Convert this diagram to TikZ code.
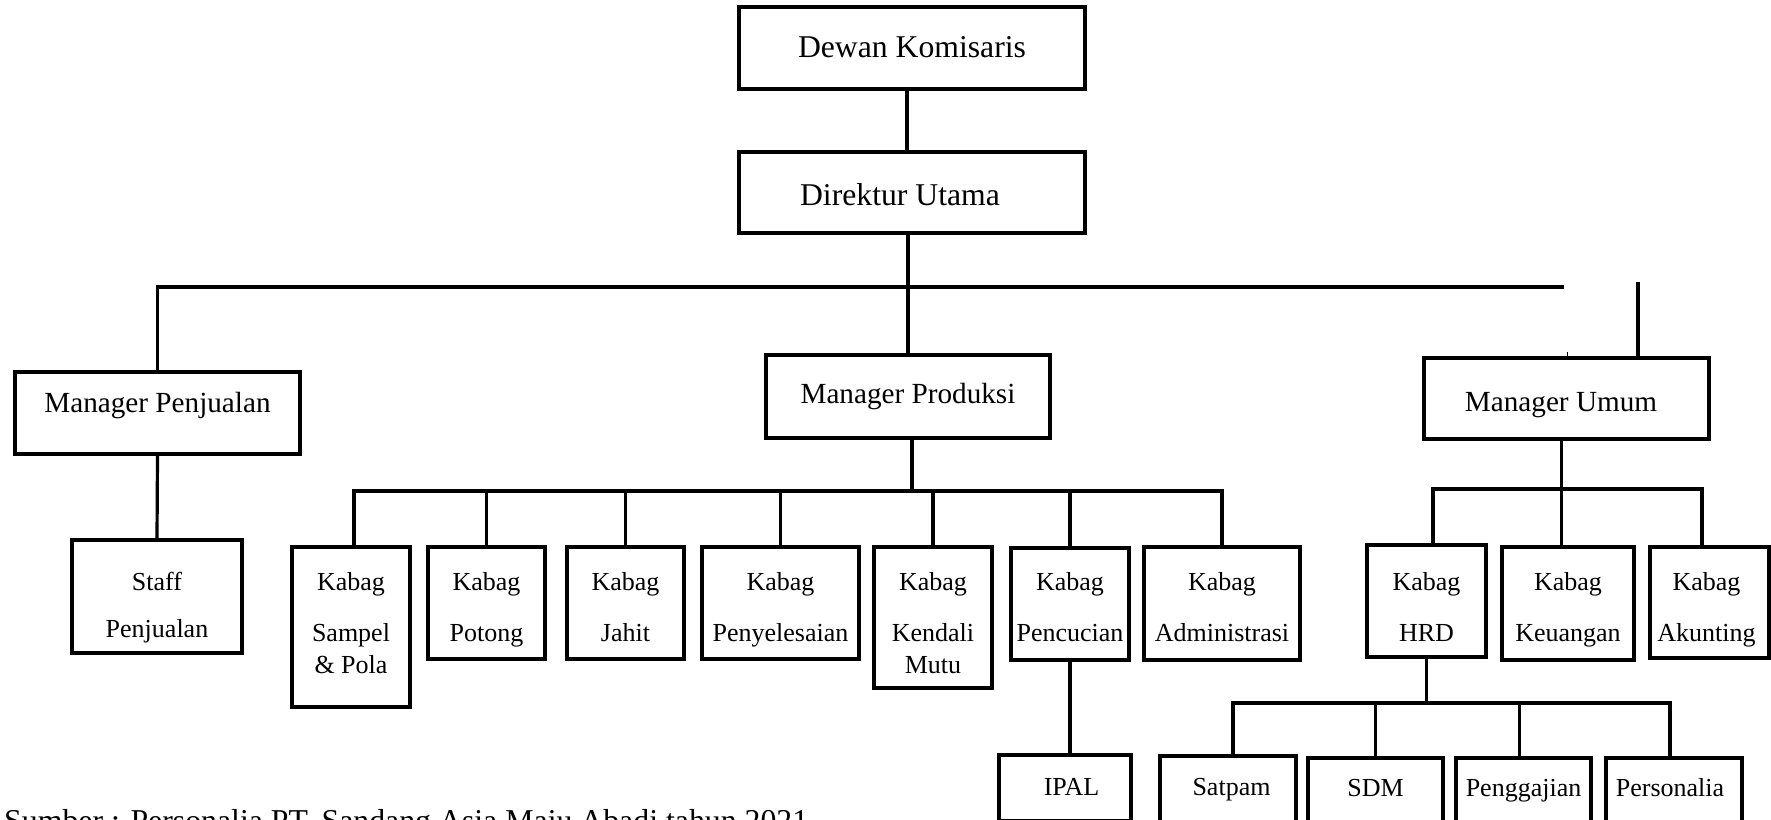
\documentclass[tikz,border=0pt]{standalone}
\usepackage{fontspec}
\setmainfont{Liberation Serif}
\begin{document}
\begin{tikzpicture}[x=1pt,y=-1pt,
  box/.style={draw, line width=3.6pt, inner sep=0pt, font=\fontsize{26}{32}\selectfont},
  lbl/.style={inner sep=0pt, align=center, anchor=north, font=\fontsize{26}{32}\selectfont},
  big/.style={font=\fontsize{31.7}{38}\selectfont},
  mgr/.style={font=\fontsize{29.2}{35}\selectfont},
  conn/.style={line width=3.2pt}]
\useasboundingbox (0,0) rectangle (1771,819);
\clip (0,0) rectangle (1771,819);

% top level
\node[box, big, minimum width=346pt, minimum height=82pt, text height=18pt, text depth=0pt] (dewan) at (912,48) {Dewan Komisaris};
\node[box, big, minimum width=346pt, minimum height=81pt, text height=25pt, text depth=0pt] (direktur) at (912,192.5) {Direktur Utama\hspace*{24pt}};

% managers
\node[box, mgr, minimum width=285pt, minimum height=82pt, text height=10pt, text depth=12pt] (mpenj) at (157.5,413) {Manager Penjualan};
\node[box, mgr, minimum width=284pt, minimum height=83pt, text height=14pt, text depth=0pt] (mprod) at (908,396.5) {Manager Produksi};
\node[box, mgr, minimum width=285pt, minimum height=81pt, text height=25pt, text depth=0pt] (mumum) at (1566.5,398.5) {Manager Umum\hspace*{11pt}};

% second level boxes
\node[box, minimum width=170pt, minimum height=113pt] (staff) at (157,596.5) {};
\node[box, minimum width=118pt, minimum height=160pt] (sampel) at (351,627) {};
\node[box, minimum width=117pt, minimum height=112pt] (potong) at (486.5,603) {};
\node[box, minimum width=117pt, minimum height=112pt] (jahit) at (625.5,603) {};
\node[box, minimum width=157pt, minimum height=112pt] (penyel) at (780.5,603) {};
\node[box, minimum width=118pt, minimum height=141pt] (kendali) at (933,617.5) {};
\node[box, minimum width=118pt, minimum height=112pt] (pencucian) at (1070,604) {};
\node[box, minimum width=156pt, minimum height=113pt] (admin) at (1222,603.5) {};
\node[box, minimum width=119pt, minimum height=112pt] (hrd) at (1426.5,601) {};
\node[box, minimum width=132pt, minimum height=113pt] (keuangan) at (1568,603.5) {};
\node[box, minimum width=119pt, minimum height=111pt] (akunting) at (1709.5,602.5) {};

% second level texts (top of first line at y = 572)
\coordinate (line1) at (0,572.2);
\node[lbl] (staffT) at (staff.north |- line1) {Staff\\[15pt]Penjualan};
\node[lbl] (sampelT) at (sampel.north |- line1) {Kabag\\[19pt]Sampel\\\& Pola};
\node[lbl] (potongT) at (potong.north |- line1) {Kabag\\[19pt]Potong};
\node[lbl] (jahitT) at (jahit.north |- line1) {Kabag\\[19pt]Jahit};
\node[lbl] (penyelT) at (penyel.north |- line1) {Kabag\\[19pt]Penyelesaian};
\node[lbl] (kendaliT) at (kendali.north |- line1) {Kabag\\[19pt]Kendali\\Mutu};
\node[lbl] (pencucianT) at (pencucian.north |- line1) {Kabag\\[19pt]Pencucian};
\node[lbl] (adminT) at (admin.north |- line1) {Kabag\\[19pt]Administrasi};
\node[lbl] (hrdT) at (hrd.north |- line1) {Kabag\\[19pt]HRD};
\node[lbl] (keuanganT) at (keuangan.north |- line1) {Kabag\\[19pt]Keuangan};
\node[lbl] (akuntingT) at ([xshift=-3pt]akunting.north |- line1) {Kabag\\[19pt]Akunting};

% third level
\node[box, minimum width=132pt, minimum height=66pt, text height=14pt, text depth=0pt] (ipal) at (1065,788) {\hspace*{13pt}IPAL};
\node[box, minimum width=136pt, minimum height=66pt, text height=12pt, text depth=0pt] (satpam) at (1228,789) {\hspace*{7pt}Satpam};
\node[box, minimum width=135pt, minimum height=64pt, text height=12pt, text depth=0pt] (sdm) at (1375.5,790) {SDM};
\node[box, minimum width=135pt, minimum height=64pt, text height=12pt, text depth=0pt] (penggajian) at (1523.5,790) {Penggajian};
\node[box, minimum width=136pt, minimum height=64pt, text height=12pt, text depth=0pt] (personalia) at (1674,790) {Personalia\hspace*{8pt}};

% source note
\node[anchor=base west, inner sep=0pt, font=\fontsize{31.8}{38}\selectfont] (sumber) at (4,831) {Sumber : Personalia PT. Sandang Asia Maju Abadi tahun 2021};

% helper coordinates
\coordinate (topbarR) at (1564,287);
\coordinate (umumtop) at (1638,282);
\coordinate (tick) at (1567,352);
\coordinate (prodbar) at (0,491);
\coordinate (umumbar) at (0,489);
\coordinate (hrdbar) at (0,703);
\coordinate (dewanS) at ([xshift=-5pt]dewan.south);
\coordinate (mprodS) at ([xshift=4pt]mprod.south);
\coordinate (sampelN) at ([xshift=3pt]sampel.north);
\coordinate (mumumS) at ([xshift=-5pt]mumum.south);
\coordinate (hrdN) at ([xshift=6.5pt]hrd.north);
\coordinate (akuntingN) at ([xshift=-7.5pt]akunting.north);
\coordinate (satpamN) at ([xshift=5pt]satpam.north);
\coordinate (personaliaN) at ([xshift=-4pt]personalia.north);
\coordinate (penggajianN) at ([xshift=-4pt]penggajian.north);

% connectors
\draw[conn] (dewanS) -- (dewanS |- direktur.north);
\draw[conn] (direktur.south -| mprod.north) -- (mprod.north);
\draw[conn] (mpenj.north) |- (topbarR);
\draw[conn] (umumtop) -- (umumtop |- mumum.north);
\draw[line width=1pt] (tick) -- (tick |- mumum.north);
\draw[conn] (mpenj.south) -- (staff.north);

% produksi
\draw[conn] (mprodS) -- (mprodS |- prodbar);
\draw[conn] (sampelN) |- (prodbar -| admin.north) -- (admin.north);
\foreach \n in {potong,jahit,penyel,kendali,pencucian}
  \draw[conn] (prodbar -| \n.north) -- (\n.north);
\draw[conn] (pencucian.south) -- (pencucian.south |- ipal.north);

% umum
\draw[conn] (mumumS) -- (mumumS |- keuangan.north);
\draw[conn] (hrdN) |- (umumbar -| akuntingN) -- (akuntingN);

% hrd
\draw[conn] (hrd.south) -- (hrd.south |- hrdbar);
\draw[conn] (satpamN) |- (hrdbar -| personaliaN) -- (personaliaN);
\draw[conn] (hrdbar -| sdm.north) -- (sdm.north);
\draw[conn] (hrdbar -| penggajianN) -- (penggajianN);
\end{tikzpicture}
\end{document}
